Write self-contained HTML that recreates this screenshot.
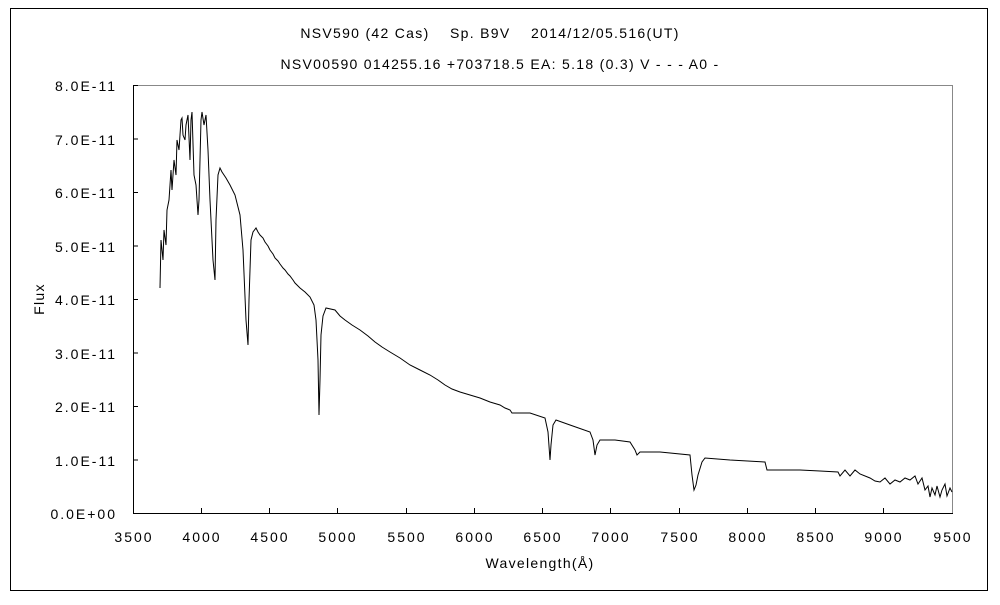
<!DOCTYPE html>
<html><head><style>
body{margin:0;background:#fff;}
svg text{font-family:"Liberation Sans","Noto Sans CJK JP",sans-serif;font-size:14px;fill:#000;}
.t{letter-spacing:1.3px;}
.k{letter-spacing:2px;}
</style></head><body>
<svg width="1000" height="600" viewBox="0 0 1000 600" xmlns="http://www.w3.org/2000/svg">
<rect x="10.5" y="8.5" width="977" height="582" fill="#fff" stroke="#000" stroke-width="1"/>
<text class="t" x="490" y="38" text-anchor="middle">NSV590 (42 Cas)　 Sp. B9V　 2014/12/05.516(UT)</text>
<text class="t" x="500" y="69" text-anchor="middle">NSV00590 014255.16 +703718.5 EA: 5.18 (0.3) V - - - A0 -</text>
<line x1="133" y1="85.5" x2="952" y2="85.5" stroke="#888"/>
<line x1="952.5" y1="85" x2="952.5" y2="513" stroke="#888"/>
<line x1="133.5" y1="85" x2="133.5" y2="513" stroke="#000"/>
<line x1="133" y1="513.5" x2="953" y2="513.5" stroke="#000"/>
<g stroke="#000">
<line x1="133" y1="85.5" x2="138" y2="85.5"/><line x1="133" y1="139" x2="138" y2="139"/><line x1="133" y1="192.5" x2="138" y2="192.5"/><line x1="133" y1="246" x2="138" y2="246"/><line x1="133" y1="299.5" x2="138" y2="299.5"/><line x1="133" y1="353" x2="138" y2="353"/><line x1="133" y1="406.5" x2="138" y2="406.5"/><line x1="133" y1="460" x2="138" y2="460"/>
<line x1="201.5" y1="508" x2="201.5" y2="513"/><line x1="269.5" y1="508" x2="269.5" y2="513"/><line x1="337.5" y1="508" x2="337.5" y2="513"/><line x1="406.5" y1="508" x2="406.5" y2="513"/><line x1="474.5" y1="508" x2="474.5" y2="513"/><line x1="542.5" y1="508" x2="542.5" y2="513"/><line x1="610.5" y1="508" x2="610.5" y2="513"/><line x1="679.5" y1="508" x2="679.5" y2="513"/><line x1="747.5" y1="508" x2="747.5" y2="513"/><line x1="815.5" y1="508" x2="815.5" y2="513"/><line x1="883.5" y1="508" x2="883.5" y2="513"/>
</g>
<g text-anchor="end" class="k">
<text x="117" y="91">8.0E-11</text><text x="117" y="145">7.0E-11</text><text x="117" y="198">6.0E-11</text><text x="117" y="252">5.0E-11</text><text x="117" y="305">4.0E-11</text><text x="117" y="359">3.0E-11</text><text x="117" y="412">2.0E-11</text><text x="117" y="466">1.0E-11</text><text x="117" y="519">0.0E+00</text>
</g>
<g text-anchor="middle" class="k">
<text x="134" y="542">3500</text><text x="202" y="542">4000</text><text x="270" y="542">4500</text><text x="338" y="542">5000</text><text x="407" y="542">5500</text><text x="475" y="542">6000</text><text x="543" y="542">6500</text><text x="611" y="542">7000</text><text x="680" y="542">7500</text><text x="748" y="542">8000</text><text x="816" y="542">8500</text><text x="884" y="542">9000</text><text x="953" y="542">9500</text>
</g>
<text class="t" x="540" y="568" text-anchor="middle">Wavelength(Å)</text>
<text class="t" x="44" y="299" text-anchor="middle" transform="rotate(-90 44 299)">Flux</text>
<polyline fill="none" stroke="#000" stroke-width="1" points="160,288 161,240 163,260 164,230 166,245 167,210 169,200 171,170 172,190 174,160 176,175 177,140 179,150 181,120 182,118 183,135 185,140 186,125 188,115 190,160 191,120 192,112 194,175 196,185 198,215 199,200 201,120 202,112 204,125 206,115 208,150 210,200 213,260 215,280 216,220 218,175 220,168 222,172 226,178 230,185 235,195 240,215 243,250 246,320 248,345 249,300 251,240 253,232 256,228 258,232 260,235 263,238 265,242 268,246 270,250 273,254 275,258 278,261 280,264 283,268 285,270 288,274 290,276 293,280 295,283 298,286 300,288 305,292 310,297 314,305 316,320 318,360 319,415 320,380 321,335 323,316 326,308 335,310 340,316 345,320 352,325 360,330 368,336 375,342 382,347 390,352 400,358 410,365 420,370 430,375 438,380 445,385 452,389 460,392 470,395 480,398 490,402 500,405 505,408 510,410 512,413 530,413 545,418 548,432 550,460 551,445 553,425 556,420 570,425 590,432 593,440 595,455 597,445 600,440 615,440 630,442 635,450 637,455 640,452 660,452 690,455 692,475 694,490 696,485 698,475 702,462 705,458 730,460 765,462 767,470 800,470 820,471 838,472 840,476 845,470 850,476 855,470 860,474 870,478 875,481 880,482 885,478 890,484 895,480 900,482 905,478 910,480 915,476 918,484 922,478 925,490 928,486 930,497 932,488 935,495 937,486 940,497 942,490 945,484 947,496 950,488 952,492"/>
</svg>
</body></html>
